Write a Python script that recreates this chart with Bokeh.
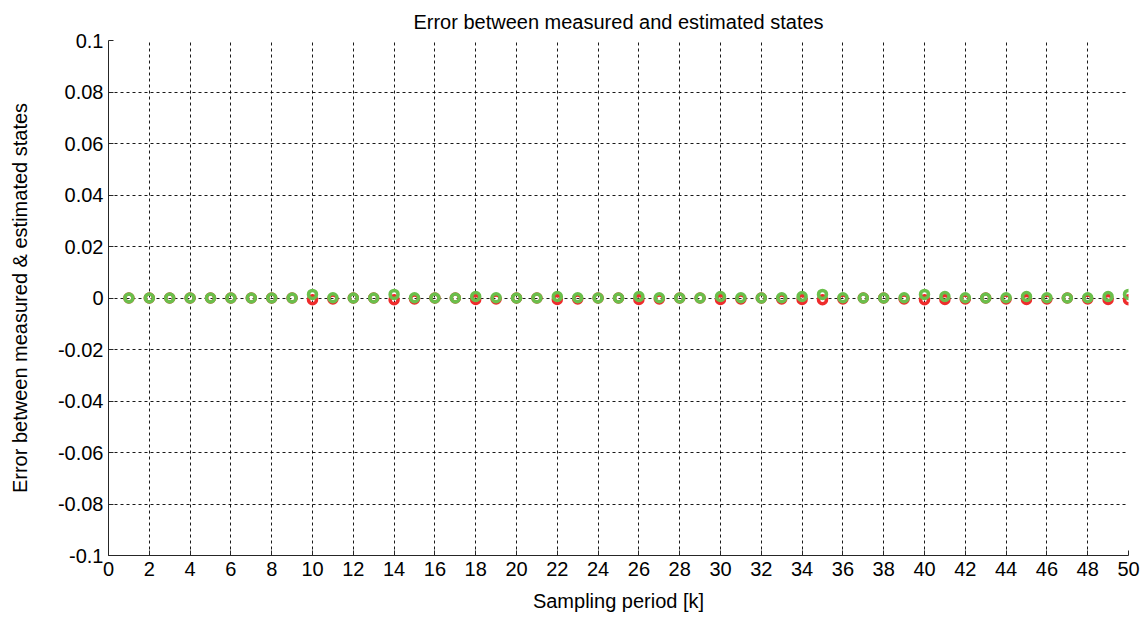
from bokeh.plotting import figure
from bokeh.models import FixedTicker, ColumnDataSource
from bokeh.embed import file_html
from bokeh.resources import INLINE

k = list(range(1, 51))
# estimated error values (first state: red, second state: green)
red_err = [0, 0, 0, 0, 0, 0, 0, 0, 0, -0.0007,
           -0.0004, 0, 0, -0.0007, -0.0004, 0, 0, -0.0006, -0.0004, 0,
           0, -0.0006, -0.0004, 0, 0, -0.0006, -0.0004, 0, 0, -0.0006,
           -0.0004, 0, -0.0004, -0.0006, -0.0007, -0.0004, 0, 0, -0.0004, -0.0007,
           -0.0006, -0.0004, 0, -0.0004, -0.0006, -0.0004, 0, -0.0004, -0.0006, -0.0007]
green_err = [0, 0, 0, 0, 0, 0, 0, 0, 0, 0.0014,
             0.0001, 0, 0, 0.0014, 0.0001, 0, 0, 0.0006, 0.0001, 0,
             0, 0.0006, 0.0001, 0, 0, 0.0006, 0.0001, 0, 0, 0.0006,
             0.0001, 0, 0.0001, 0.0006, 0.0014, 0.0001, 0, 0, 0.0001, 0.0014,
             0.0006, 0.0001, 0, 0.0001, 0.0006, 0.0001, 0, 0.0001, 0.0006, 0.0014]
x_ticks = list(range(0, 51, 2))
y_ticks = [-0.1, -0.08, -0.06, -0.04, -0.02, 0, 0.02, 0.04, 0.06, 0.08, 0.1]
y_labels = ["-0.1", "-0.08", "-0.06", "-0.04", "-0.02", "0", "0.02", "0.04", "0.06", "0.08", "0.1"]

FONT = "Liberation Sans"

p = figure(width=1141, height=617, output_backend="svg", toolbar_location=None,
           x_range=(0, 50), y_range=(-0.1, 0.1),
           title="Error between measured and estimated states")
p.frame_width = 1020
p.frame_height = 515
p.min_border_left = 108
p.min_border_right = 13
p.min_border_top = 40
p.min_border_bottom = 62
p.outline_line_color = None
p.background_fill_color = "white"
p.border_fill_color = "white"

p.title.align = "center"
p.title.text_font = FONT
p.title.text_font_size = "20px"
p.title.text_font_style = "normal"
p.title.text_color = "black"
p.title.offset = 0
p.title.standoff = 15

for ax in (p.xaxis[0], p.yaxis[0]):
    ax.major_label_text_font = FONT
    ax.major_label_text_font_size = "20px"
    ax.major_label_text_color = "black"
    ax.axis_label_text_font = FONT
    ax.axis_label_text_font_size = "20px"
    ax.axis_label_text_font_style = "normal"
    ax.axis_label_text_color = "black"
    ax.axis_line_color = "#262626"
    ax.major_tick_line_color = "#262626"
    ax.major_tick_in = 5
    ax.major_tick_out = 0
    ax.minor_tick_line_color = None

p.xaxis.ticker = FixedTicker(ticks=x_ticks)
p.yaxis.ticker = FixedTicker(ticks=y_ticks)
p.yaxis.major_label_overrides = {t: l for t, l in zip(y_ticks, y_labels)}
p.xaxis.axis_label = "Sampling period [k]"
p.yaxis.axis_label = "Error between measured & estimated states"
p.xaxis.major_label_standoff = 6
p.yaxis.major_label_standoff = 5
p.xaxis.axis_label_standoff = 11
p.yaxis.axis_label_standoff = 24

p.grid.grid_line_color = "black"
p.grid.grid_line_dash = "3 3"
p.grid.grid_line_width = 1
p.grid.grid_line_alpha = 0.9

src = ColumnDataSource(dict(k=k, r=red_err, g=green_err))
p.scatter("k", "r", source=src, size=8, marker="circle",
          fill_color=None, line_color="#EE2C2C", line_width=3.5)
p.scatter("k", "g", source=src, size=8, marker="circle",
          fill_color=None, line_color="#6ABF4B", line_width=3.5)

open("out.html", "w").write(file_html(p, INLINE))
